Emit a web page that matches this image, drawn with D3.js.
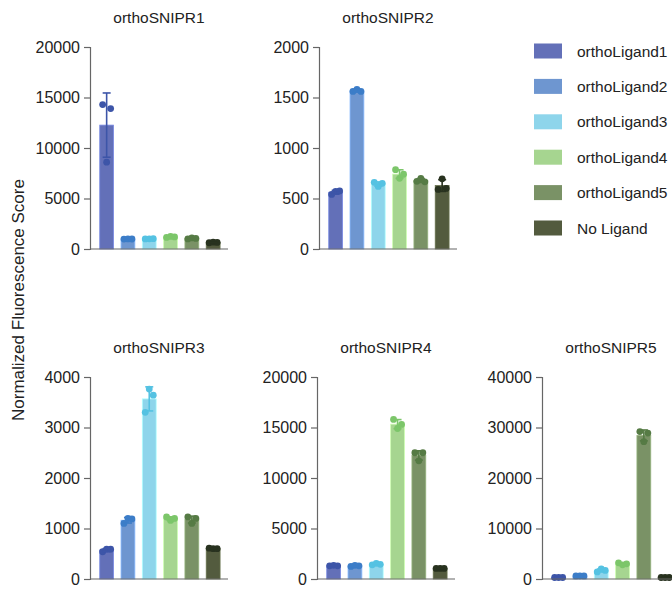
<!DOCTYPE html>
<html>
<head>
<meta charset="utf-8">
<script src="https://cdn.jsdelivr.net/npm/d3@7"></script>
<style>
  body { margin: 0; background: #fff; }
  svg { display: block; font-family: "Liberation Sans", Arial, sans-serif; }
</style>
</head>
<body>
<svg id="chart" width="672" height="592"></svg>
<script>
// ---- Data ----
const ligands = ["orthoLigand1", "orthoLigand2", "orthoLigand3", "orthoLigand4", "orthoLigand5", "No Ligand"];
const barColors = ["#6370b8", "#6e96d0", "#8ed5eb", "#a6d590", "#7a9266", "#535b3e"];
const pointColors = ["#3d55a8", "#3c7dc8", "#55c2e2", "#7cc66a", "#567b45", "#28321f"];
const panelTitles = ["orthoSNIPR1", "orthoSNIPR2", "orthoSNIPR3", "orthoSNIPR4", "orthoSNIPR5"];
const yMax = [20000, 2000, 4000, 20000, 40000];
const yTicks = [
  [0, 5000, 10000, 15000, 20000],
  [0, 500, 1000, 1500, 2000],
  [0, 1000, 2000, 3000, 4000],
  [0, 5000, 10000, 15000, 20000],
  [0, 10000, 20000, 30000, 40000]
];
// replicate values (3 per ligand) for each SNIPR
const snipr1 = [[14300, 8600, 13900], [980, 1000, 990], [1000, 1010, 1020], [1150, 1250, 1200], [1000, 1100, 1050], [620, 680, 650]];
const snipr2 = [[540, 570, 575], [1560, 1580, 1560], [660, 620, 650], [785, 700, 740], [670, 700, 665], [590, 695, 600]];
const snipr3 = [[540, 590, 590], [1100, 1200, 1190], [3300, 3760, 3640], [1230, 1160, 1200], [1230, 1100, 1200], [610, 600, 600]];
const snipr4 = [[1300, 1350, 1300], [1250, 1350, 1300], [1400, 1550, 1450], [15800, 14900, 15300], [12500, 11700, 12500], [1050, 1050, 1050]];
const snipr5 = [[300, 300, 300], [600, 620, 600], [1400, 2000, 1700], [3200, 2800, 3000], [29200, 27200, 28900], [300, 300, 300]];
const panelData = [snipr1, snipr2, snipr3, snipr4, snipr5];

// ---- Layout ----
const panels = [
  { ax: 90,  top: 47,  bottom: 249 },
  { ax: 319, top: 47,  bottom: 249 },
  { ax: 90,  top: 377, bottom: 579 },
  { ax: 317, top: 377, bottom: 579 },
  { ax: 542, top: 377, bottom: 579 }
];
const step = 21.3;
const jitter = [-4, 0, 4];

const svg = d3.select("#chart");

panels.forEach((p, i) => {
  const data = panelData[i];
  const g = svg.append("g");
  const x = d3.scaleBand()
    .domain(ligands)
    .range([p.ax + 6, p.ax + 6 + step * 6])
    .paddingInner(0.35)
    .paddingOuter(0.175);
  const y = d3.scaleLinear().domain([0, yMax[i]]).range([p.bottom, p.top]);
  const xEnd = p.ax + 138;

  // bars
  data.forEach((vals, j) => {
    const mean = d3.mean(vals);
    const sd = d3.deviation(vals);
    const cx = x(ligands[j]) + x.bandwidth() / 2;
    g.append("rect")
      .attr("x", x(ligands[j]))
      .attr("y", y(mean))
      .attr("width", x.bandwidth())
      .attr("height", p.bottom - y(mean))
      .attr("fill", barColors[j])
      .attr("stroke", d3.color(barColors[j]).brighter(0.6))
      .attr("stroke-width", 0.8);
    // points
    vals.forEach((v, k) => {
      g.append("circle")
        .attr("cx", cx + jitter[k])
        .attr("cy", y(v))
        .attr("r", 3.4)
        .attr("fill", pointColors[j]);
    });
    // error bar
    const eg = g.append("g").attr("stroke", pointColors[j]).attr("stroke-width", 1.6);
    eg.append("line").attr("x1", cx).attr("x2", cx).attr("y1", y(mean + sd)).attr("y2", y(Math.max(0, mean - sd)));
    eg.append("line").attr("x1", cx - 4).attr("x2", cx + 4).attr("y1", y(mean + sd)).attr("y2", y(mean + sd));
    eg.append("line").attr("x1", cx - 4).attr("x2", cx + 4).attr("y1", y(Math.max(0, mean - sd))).attr("y2", y(Math.max(0, mean - sd)));
  });

  // y axis
  const yAxis = d3.axisLeft(y).tickValues(yTicks[i]).tickSize(6).tickPadding(4).tickFormat(d3.format("d"));
  const ag = g.append("g").attr("transform", `translate(${p.ax},0)`).call(yAxis);
  ag.select(".domain").attr("stroke", "#666").attr("stroke-width", 1.2);
  ag.selectAll(".tick line").attr("stroke", "#666").attr("stroke-width", 1.2);
  ag.selectAll(".tick text").attr("fill", "#222").style("font-size", "16px").attr("font-family", "Liberation Sans, Arial, sans-serif");

  // x baseline
  g.append("line")
    .attr("x1", p.ax).attr("x2", xEnd)
    .attr("y1", p.bottom).attr("y2", p.bottom)
    .attr("stroke", "#666").attr("stroke-width", 1.2);

  // title
  g.append("text")
    .attr("x", (p.ax + xEnd) / 2)
    .attr("y", p.top - 24)
    .attr("text-anchor", "middle")
    .attr("fill", "#222")
    .style("font-size", "15.5px")
    .text(panelTitles[i]);
});

// y-axis label
svg.append("text")
  .attr("transform", "translate(24,300) rotate(-90)")
  .attr("text-anchor", "middle")
  .attr("fill", "#222")
  .style("font-size", "17px")
  .text("Normalized Fluorescence Score");

// legend
const legendY = d3.scalePoint().domain(ligands).range([51, 228]);
const lg = svg.append("g");
ligands.forEach((l, j) => {
  lg.append("rect")
    .attr("x", 534).attr("y", legendY(l) - 7.5)
    .attr("width", 28).attr("height", 15)
    .attr("fill", barColors[j]);
  lg.append("text")
    .attr("x", 577).attr("y", legendY(l) + 5.5)
    .attr("fill", "#222")
    .style("font-size", "15.5px")
    .text(l);
});
</script>
</body>
</html>
